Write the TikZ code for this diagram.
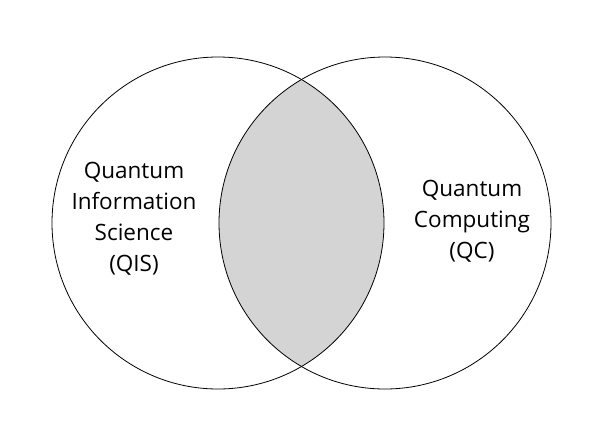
\documentclass[tikz,border=0pt]{standalone}
\usepackage{fontspec}
\setmainfont{Open Sans}
\usepackage{tikz}
\usetikzlibrary{positioning}
\tikzstyle{venn} = [x = 1pt, y = -1pt]
\definecolor{lensColor}{RGB}{212,212,212}
\tikzstyle{setCircle} = [draw=black, line width=0.8pt, circle, minimum size=332pt, inner sep=0pt]
\tikzstyle{setText} = [font=\fontsize{22.5}{31}\selectfont, align=center]
\newcommand{\radius}{166}
\newcommand{\lens}[2]{
  \begin{scope}
    \clip (#1) circle (\radius pt);
    \fill [lensColor] (#2) circle (\radius pt);
  \end{scope}
}

\begin{document}
\begin{tikzpicture}[venn]
  \useasboundingbox (0,0) rectangle (608,440);
  \coordinate (qisCenter) at (218,223);
  \coordinate (qcCenter) at (385,223);
  \lens{qisCenter}{qcCenter}
  \node [setCircle] (qis) at (qisCenter) {};
  \node [setCircle] (qc) at (qcCenter) {};
  \node [setText] (qisText) at (134,219) {Quantum\\Information\\Science\\(QIS)};
  \node [setText] (qcText) at (472,221) {Quantum\\Computing\\(QC)};
\end{tikzpicture}
\end{document}
